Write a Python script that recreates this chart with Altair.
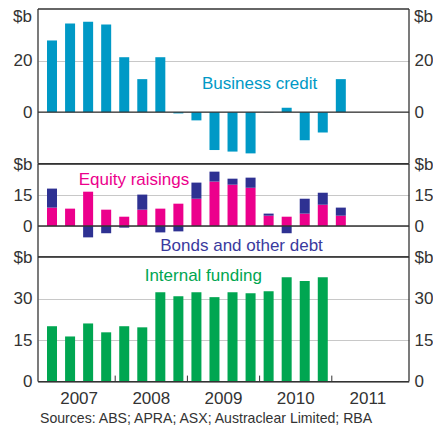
import altair as alt
import pandas as pd

quarters = ["2007-Q1", "2007-Q2", "2007-Q3", "2007-Q4",
            "2008-Q1", "2008-Q2", "2008-Q3", "2008-Q4",
            "2009-Q1", "2009-Q2", "2009-Q3", "2009-Q4",
            "2010-Q1", "2010-Q2", "2010-Q3", "2010-Q4",
            "2011-Q1"]
business_credit = [27.8, 34.4, 35.1, 34.0, 21.3, 12.8, 21.3, -0.5, -3.2,
                   -14.7, -15.3, -16.0, -0.1, 1.7, -10.9, -7.9, 12.8]
equity_raisings = [8.9, 8.4, 16.6, 7.9, 4.5, 7.9, 8.4, 10.8, 13.2,
                   21.5, 20.0, 18.5, 5.0, 4.5, 6.0, 10.3, 5.0]
bonds_other_debt = [9.2, 0.0, -5.5, -3.5, -0.8, 7.3, -3.1, -2.6, 7.8,
                    4.8, 2.9, 4.9, 1.0, -3.5, 7.2, 5.8, 3.9]
internal_funding = [20.0, 16.3, 21.0, 17.8, 20.0, 19.6, 32.3, 30.8, 32.3,
                    30.5, 32.3, 31.9, 32.6, 37.7, 36.3, 37.7, None]
year_ticks = [2007, 2008, 2009, 2010, 2011]
source_text = "Sources: ABS; APRA; ASX; Austraclear Limited; RBA"

BLUE = "#0099c6"
PINK = "#ec008c"
NAVY = "#2e3192"
GREEN = "#00a651"
DARK = "#333333"
GRID = "#c8c8c8"
FONT = "Liberation Sans"

W = 371
H1, H2, H3 = 154.7, 93, 124.6


def qmid(q):
    y, n = q.split("-Q")
    return int(y) + (int(n) - 0.5) / 4


xs = [qmid(q) for q in quarters]
xscale = alt.Scale(domain=[2007, 2012], nice=False, zero=False)


def yaxis(values, top, orient, grid):
    return alt.Axis(orient=orient, values=values,
                    labelExpr=f"datum.value == {top} ? '$b' : datum.label",
                    grid=grid, gridColor=GRID, gridWidth=1, domain=False, ticks=False,
                    labelPadding=6 if orient == "left" else 5, labelFontSize=17,
                    labelColor=DARK, title=None, labelFont=FONT)


def zero_rule(yscale, values, top):
    return alt.Chart(pd.DataFrame({"z": [0]})).mark_rule(color=DARK, strokeWidth=1.3).encode(
        y=alt.Y("z:Q", scale=yscale, axis=yaxis(values, top, "right", False)))


def label(x, y, text, color, yscale):
    return alt.Chart(pd.DataFrame({"x": [x], "y": [y], "t": [text]})).mark_text(
        fontSize=17, font=FONT, color=color, align="center", baseline="alphabetic").encode(
        x=alt.X("x:Q", scale=xscale, axis=None),
        y=alt.Y("y:Q", scale=yscale, axis=None),
        text="t:N")


def frame(h):
    d = pd.DataFrame({"a": [0]})
    base = alt.Chart(d).mark_rule(color=DARK, strokeWidth=1.3)
    return [
        base.encode(x=alt.value(0), y=alt.value(0), y2=alt.value(h)),
        base.encode(x=alt.value(W), y=alt.value(0), y2=alt.value(h)),
        base.encode(x=alt.value(0), x2=alt.value(W), y=alt.value(0)),
        base.encode(x=alt.value(0), x2=alt.value(W), y=alt.value(h)),
    ]


# Panel 1: business credit
ys1 = alt.Scale(domain=[-20, 40], nice=False, zero=False)
df1 = pd.DataFrame({"x": xs, "v": business_credit})
bars1 = alt.Chart(df1).mark_bar(size=10, color=BLUE).encode(
    x=alt.X("x:Q", scale=xscale, axis=None),
    y=alt.Y("v:Q", scale=ys1, axis=yaxis([0, 20], 40, "left", True)))
unit1 = pd.DataFrame({"y": [40], "t": ["$b"]})
ub_left = alt.Chart(unit1).mark_text(fontSize=17, font=FONT, color=DARK, align="right",
                                     baseline="top", dx=-6).encode(
    x=alt.value(0), y=alt.Y("y:Q", scale=ys1, axis=None), text="t:N")
ub_right = alt.Chart(unit1).mark_text(fontSize=17, font=FONT, color=DARK, align="left",
                                      baseline="top", dx=5).encode(
    x=alt.value(W), y=alt.Y("y:Q", scale=ys1, axis=None), text="t:N")
p1 = alt.layer(bars1, zero_rule(ys1, [0, 20], 40), ub_left, ub_right,
               label(2010.0, 8.8, "Business credit", BLUE, ys1), *frame(H1)).resolve_axis(
    y="independent").properties(width=W, height=H1)

# Panel 2: equity and bonds
ys2 = alt.Scale(domain=[-15, 30], nice=False, zero=False)
rows = []
for x, e, b in zip(xs, equity_raisings, bonds_other_debt):
    rows.append({"x": x, "v": e, "s": "Equity raisings", "o": 0})
    rows.append({"x": x, "v": b, "s": "Bonds and other debt", "o": 1})
df2 = pd.DataFrame(rows)
bars2 = alt.Chart(df2).mark_bar(size=10).encode(
    x=alt.X("x:Q", scale=xscale, axis=None),
    y=alt.Y("v:Q", scale=ys2, stack="zero", axis=yaxis([0, 15, 30], 30, "left", True)),
    color=alt.Color("s:N", scale=alt.Scale(domain=["Equity raisings", "Bonds and other debt"],
                                           range=[PINK, NAVY]), legend=None),
    order=alt.Order("o:Q"))
p2 = alt.layer(bars2, zero_rule(ys2, [0, 15, 30], 30),
               label(2008.26, 19.8, "Equity raisings", PINK, ys2),
               label(2009.75, -11.9, "Bonds and other debt", "#3a3a9e", ys2), *frame(H2)).resolve_axis(
    y="independent").properties(width=W, height=H2)

# Panel 3: internal funding
ys3 = alt.Scale(domain=[0, 45], nice=False, zero=False)
df3 = pd.DataFrame({"x": xs, "v": internal_funding}).dropna()
bars3 = alt.Chart(df3).mark_bar(size=10, color=GREEN).encode(
    x=alt.X("x:Q", scale=xscale, axis=None),
    y=alt.Y("v:Q", scale=ys3, axis=yaxis([0, 15, 30, 45], 45, "left", True)))
ticks3 = alt.Chart(pd.DataFrame({"yr": year_ticks[1:]})).mark_rule(color=DARK, strokeWidth=1).encode(
    x=alt.X("yr:Q", scale=xscale, axis=None),
    y=alt.value(H3 - 6), y2=alt.value(H3))
years_df = pd.DataFrame({"yr": [y + 0.5 for y in year_ticks], "t": [str(y) for y in year_ticks]})
year_labels = alt.Chart(years_df).mark_text(
    fontSize=17, font=FONT, color=DARK, align="center", baseline="top").encode(
    x=alt.X("yr:Q", scale=xscale, axis=None), y=alt.value(H3 + 9), text="t:N")
src = alt.Chart(pd.DataFrame({"t": [source_text]})).mark_text(
    align="left", baseline="alphabetic", fontSize=14.1, font=FONT, color=DARK).encode(
    x=alt.value(2), y=alt.value(H3 + 41), text="t:N")
p3 = alt.layer(bars3, ticks3, zero_rule(ys3, [0, 15, 30, 45], 45),
               label(2009.22, 36.5, "Internal funding", GREEN, ys3), year_labels, src,
               *frame(H3)).resolve_axis(
    y="independent").properties(width=W, height=H3)

chart = alt.vconcat(p1, p2, p3, spacing=0, bounds="flush").properties(
    padding={"left": 5, "top": 0, "right": 0, "bottom": 0}
).configure(font=FONT).configure_view(stroke=None)

chart.save("out.html", embed_options={"renderer": "svg", "actions": False})
